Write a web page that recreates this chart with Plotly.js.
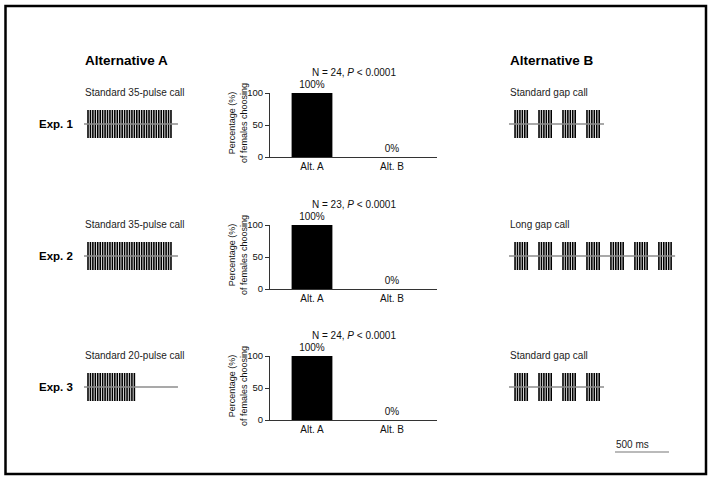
<!DOCTYPE html>
<html>
<head>
<meta charset="utf-8">
<script src="https://cdn.plot.ly/plotly-3.0.1.min.js"></script>
<style>html,body{margin:0;padding:0;background:#fff;}#chart{width:714px;height:483px;}</style>
</head>
<body>
<div id="chart"></div>
<script>
// ---------------- DATA ----------------
const experiments = ["Exp. 1", "Exp. 2", "Exp. 3"];
const altALabels = ["Standard 35-pulse call", "Standard 35-pulse call", "Standard 20-pulse call"];
const altBLabels = ["Standard gap call", "Long gap call", "Standard gap call"];
const altAPulses = [35, 35, 20];          // pulses in the Alternative A call
const altBGroups = [4, 7, 4];             // pulse groups in the Alternative B call
const pulsesPerGroup = [6, 6, 6];         // pulses in each group
const pulsePeriodMs = 22.6;               // pulse period
const groupPeriodMs = 222;                // group onset-to-onset period
const altAWindowMs = [870, 870, 870];     // length of drawn baseline (A)
const altBWindowMs = [880, 1540, 880];    // length of drawn baseline (B)
const altAOnsetMs = 37;                   // first pulse after baseline start (A)
const altBOnsetMs = 56;                   // first pulse after baseline start (B)
const categories = ["Alt. A", "Alt. B"];
const pctAltA = [100, 100, 100];
const pctAltB = [0, 0, 0];
const sampleN = [24, 23, 24];
const pText = "&lt; 0.0001";
const yTickVals = [0, 50, 100];
const scaleBarMs = 500;

// ---------------- LAYOUT HELPERS ----------------
const W = 714, H = 483;
const px = x => x / W;
const py = y => 1 - y / H;
const PX_PER_MS = 54 / 500;
const baseY = [124, 256, 387];
const chartTop = [93, 225, 356];
const chartBot = [157, 289, 420];
const titleY = [72, 204, 335];
const subY = [92, 224, 355];
const FONT = "Liberation Sans, Arial, Helvetica, sans-serif";
const NARROW = "Liberation Sans Narrow, Arial Narrow, Liberation Sans, sans-serif";

const layout = {
  width: W, height: H,
  margin: {l: 0, r: 0, t: 0, b: 0},
  paper_bgcolor: "#ffffff",
  plot_bgcolor: "rgba(0,0,0,0)",
  showlegend: false,
  font: {family: FONT, color: "#111"},
  annotations: [],
  shapes: []
};
const data = [];
let axN = 1;
function addAxes(xdom, ydom, xopts, yopts) {
  const n = axN++;
  const s = n === 1 ? "" : String(n);
  layout["xaxis" + s] = Object.assign({domain: xdom, anchor: "y" + s, fixedrange: true}, xopts);
  layout["yaxis" + s] = Object.assign({domain: ydom, anchor: "x" + s, fixedrange: true}, yopts);
  return {x: "x" + s, y: "y" + s};
}
const hidden = r => ({visible: false, range: r, showgrid: false, zeroline: false});

function pulseTrace(onsets, ax) {
  const xs = [], ys = [];
  onsets.forEach(t => { xs.push(t, t, null); ys.push(-1, 1, null); });
  return {type: "scatter", mode: "lines", x: xs, y: ys, xaxis: ax.x, yaxis: ax.y,
          line: {color: "#000", width: 1.6}, hoverinfo: "skip"};
}
function baseTrace(win, ax) {
  return {type: "scatter", mode: "lines", x: [0, win], y: [0, 0], xaxis: ax.x, yaxis: ax.y,
          line: {color: "#8c8c8c", width: 1.5}, hoverinfo: "skip"};
}

for (let i = 0; i < 3; i++) {
  const yc = baseY[i];
  const ydomW = [py(yc + 15), py(yc - 15)];
  const yr = [-15 / 14, 15 / 14];

  // Alternative A waveform
  const axA = addAxes([px(84), px(84 + altAWindowMs[i] * PX_PER_MS)], ydomW,
                      hidden([0, altAWindowMs[i]]), hidden(yr));
  const onA = [];
  for (let k = 0; k < altAPulses[i]; k++) onA.push(altAOnsetMs + k * pulsePeriodMs);
  data.push(pulseTrace(onA, axA));
  data.push(baseTrace(altAWindowMs[i], axA));

  // Alternative B waveform
  const axB = addAxes([px(509), px(509 + altBWindowMs[i] * PX_PER_MS)], ydomW,
                      hidden([0, altBWindowMs[i]]), hidden(yr));
  const onB = [];
  for (let g = 0; g < altBGroups[i]; g++)
    for (let k = 0; k < pulsesPerGroup[i]; k++)
      onB.push(altBOnsetMs + g * groupPeriodMs + k * pulsePeriodMs);
  data.push(pulseTrace(onB, axB));
  data.push(baseTrace(altBWindowMs[i], axB));

  // Bar chart
  const axC = addAxes([px(270), px(437)], [py(chartBot[i]), py(chartTop[i])],
    {type: "category", range: [-0.525, 1.5625], showline: true, linecolor: "#333", linewidth: 1,
     ticks: "", showgrid: false, zeroline: false, tickfont: {size: 10, color: "#111"}},
    {range: [0, 100], tickvals: yTickVals, ticks: "outside", ticklen: 4, tickcolor: "#333",
     showline: true, linecolor: "#333", linewidth: 1, showgrid: false, zeroline: false,
     tickfont: {size: 9.5, color: "#111", family: NARROW}});
  const vals = [pctAltA[i], pctAltB[i]];
  data.push({type: "bar", x: categories, y: vals, xaxis: axC.x, yaxis: axC.y,
             width: 0.51, marker: {color: "#000", line: {width: 0}},
             text: vals.map(v => v + "%"), textposition: "outside", cliponaxis: false,
             textfont: {size: 10, color: "#111"}, hoverinfo: "skip"});

  // Texts
  layout.annotations.push({xref: "paper", yref: "paper", x: px(353.5), y: py(titleY[i]),
    xanchor: "center", yanchor: "middle", showarrow: false,
    text: "N = " + sampleN[i] + ", <i>P</i> " + pText, font: {size: 10, color: "#111"}});
  layout.annotations.push({xref: "paper", yref: "paper", x: px(238), y: py((chartTop[i] + chartBot[i]) / 2 - 2),
    xanchor: "center", yanchor: "middle", showarrow: false, textangle: -90,
    text: "Percentage (%)<br>of females choosing", font: {size: 9, color: "#111", family: NARROW}});
  layout.annotations.push({xref: "paper", yref: "paper", x: px(75), y: py(yc),
    xanchor: "right", yanchor: "middle", showarrow: false,
    text: "<b>" + experiments[i] + "</b>", font: {size: 11.5, color: "#000"}});
  layout.annotations.push({xref: "paper", yref: "paper", x: px(83), y: py(subY[i]),
    xanchor: "left", yanchor: "middle", showarrow: false,
    text: altALabels[i], font: {size: 10, color: "#222"}});
  layout.annotations.push({xref: "paper", yref: "paper", x: px(508), y: py(subY[i]),
    xanchor: "left", yanchor: "middle", showarrow: false,
    text: altBLabels[i], font: {size: 10, color: "#222"}});
}

// Column headers
layout.annotations.push({xref: "paper", yref: "paper", x: px(83), y: py(60), xanchor: "left", yanchor: "middle",
  showarrow: false, text: "<b>Alternative A</b>", font: {size: 13.5, color: "#000"}});
layout.annotations.push({xref: "paper", yref: "paper", x: px(508), y: py(60), xanchor: "left", yanchor: "middle",
  showarrow: false, text: "<b>Alternative B</b>", font: {size: 13.5, color: "#000"}});

// Scale bar
const axS = addAxes([px(615), px(615 + scaleBarMs * PX_PER_MS)], [py(456), py(448)],
                    hidden([0, scaleBarMs]), hidden([-1, 1]));
data.push({type: "scatter", mode: "lines", x: [0, scaleBarMs], y: [0, 0], xaxis: axS.x, yaxis: axS.y,
           line: {color: "#777", width: 1.2}, hoverinfo: "skip"});
layout.annotations.push({xref: "paper", yref: "paper", x: px(614), y: py(444), xanchor: "left", yanchor: "middle",
  showarrow: false, text: scaleBarMs + " ms", font: {size: 10, color: "#222"}});

// Frame
layout.shapes.push({type: "rect", xref: "paper", yref: "paper",
  x0: px(5.5), x1: px(706), y0: py(474), y1: py(6), line: {color: "#000", width: 2.5}, fillcolor: "rgba(0,0,0,0)"});

Plotly.newPlot("chart", data, layout, {displayModeBar: false, staticPlot: true});
</script>
</body>
</html>
